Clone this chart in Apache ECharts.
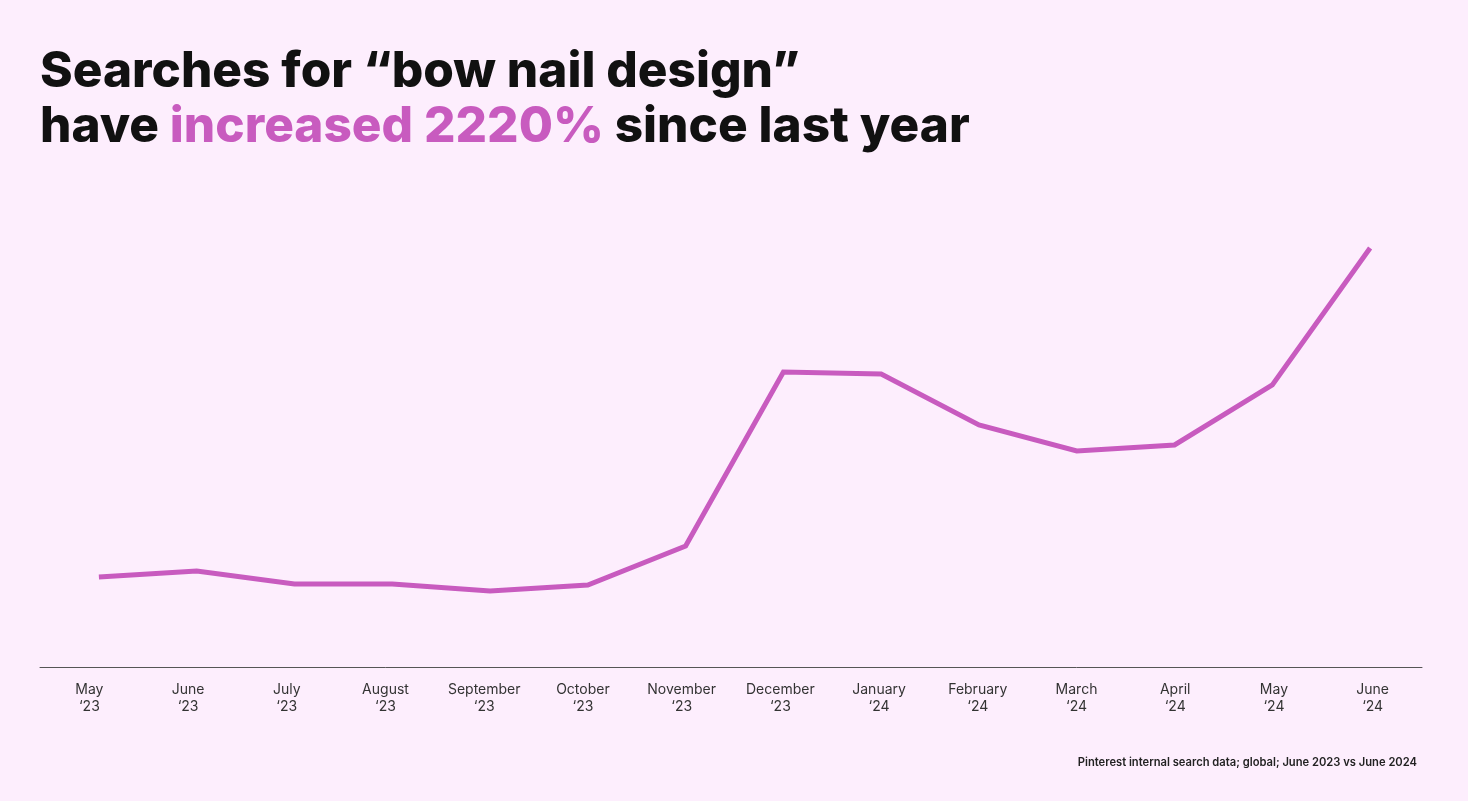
<!DOCTYPE html>
<html><head><meta charset="utf-8">
<script src="https://cdn.jsdelivr.net/npm/echarts@6/dist/echarts.min.js"></script>
<style>html,body{margin:0;padding:0;background:#fdeefd;}#c{width:1468px;height:801px;}</style>
</head><body><div id="c"></div>
<script>
const months = ["May","June","July","August","September","October","November","December","January","February","March","April","May","June"];
const years = ["‘23","‘23","‘23","‘23","‘23","‘23","‘23","‘23","‘24","‘24","‘24","‘24","‘24","‘24"];
const searches = [90, 96, 83, 83, 76, 82, 121, 295, 293, 242, 216, 222, 282, 419];

const categories = months.map((m, i) => m + "\n" + years[i]);
const chart = echarts.init(document.getElementById('c'), null, {renderer: 'canvas'});
chart.setOption({
  backgroundColor: '#fdeefd',
  animation: false,
  title: [{
    left: 35, top: 40,
    text: '{b|Searches for “bow nail design”}\n{b|have }{p|increased 2220%}{b| since last year}',
    textStyle: {
      rich: {
        b: {fontFamily: 'Inter', fontWeight: 800, fontSize: 49.5, color: '#111111', lineHeight: 55},
        p: {fontFamily: 'Inter', fontWeight: 800, fontSize: 49.5, color: '#c85bbf', lineHeight: 55}
      }
    }
  }, {
    right: 46, top: 752,
    text: 'Pinterest internal search data; global; June 2023 vs June 2024',
    textStyle: {fontFamily: 'Inter', fontWeight: 600, fontSize: 11.2, color: '#222222'}
  }],
  grid: [
    {left: 40, right: 46, top: 167, bottom: 134},
    {left: 50, right: 49, top: 167, bottom: 134}
  ],
  xAxis: [{
    type: 'category', data: categories, boundaryGap: true, gridIndex: 0,
    axisLine: {lineStyle: {color: '#555555', width: 1}},
    axisTick: {show: false},
    axisLabel: {fontFamily: 'Inter', fontSize: 14, color: '#333333', lineHeight: 17, margin: 14}
  }, {
    type: 'category', data: categories, boundaryGap: true, gridIndex: 1, show: false
  }],
  yAxis: [
    {type: 'value', min: 0, max: 500, show: false, gridIndex: 0},
    {type: 'value', min: 0, max: 500, show: false, gridIndex: 1}
  ],
  series: [{
    type: 'line', data: searches, symbol: 'none', xAxisIndex: 1, yAxisIndex: 1,
    lineStyle: {color: '#c85bbf', width: 5, join: 'miter'}
  }]
});
</script></body></html>
